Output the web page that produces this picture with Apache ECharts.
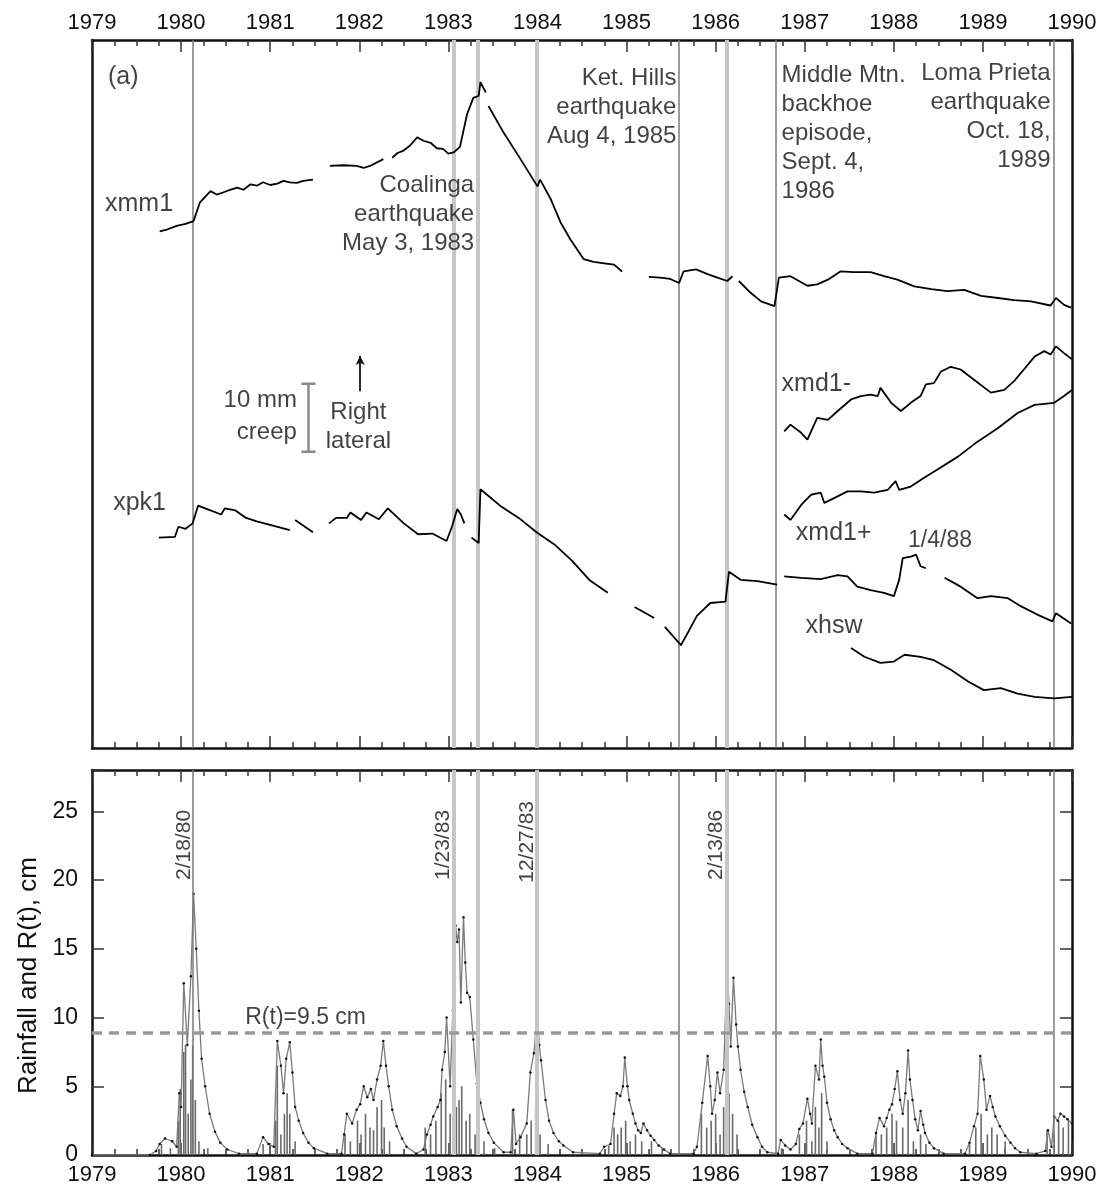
<!DOCTYPE html>
<html><head><meta charset="utf-8">
<script src="https://cdn.jsdelivr.net/npm/echarts@6/dist/echarts.min.js"></script>
<style>html,body{margin:0;padding:0;background:#fff}#c{width:1105px;height:1192px}</style>
</head><body><div id="c"></div><script>
// ---------- DATA ----------
// creep traces (decimal year, relative offset in mm); null = data gap
const xmm1 = [[1979.76,75.9],[1979.85,76.2],[1979.95,76.7],[1980.05,77.0],[1980.14,77.4],[1980.21,80.1],[1980.33,81.8],[1980.40,81.3],[1980.47,81.6],[1980.55,82.0],[1980.63,82.3],[1980.70,82.0],[1980.78,82.8],[1980.85,82.6],[1980.92,83.1],[1981.00,82.7],[1981.08,82.9],[1981.15,83.3],[1981.22,83.1],[1981.30,83.0],[1981.37,83.3],[1981.48,83.5],null,
  [1981.67,85.5],[1981.82,85.6],[1981.97,85.5],[1982.05,85.2],[1982.12,85.5],[1982.27,86.5],null,[1982.37,86.7],[1982.43,87.4],[1982.49,87.7],[1982.57,88.5],[1982.65,89.7],[1982.72,89.2],[1982.80,88.9],[1982.87,88.1],[1982.94,88.0],[1983.00,87.3],[1983.06,87.5],[1983.13,88.3],[1983.21,93.1],[1983.28,95.5],[1983.34,95.8],[1983.36,97.8],[1983.42,96.3],null,
  [1983.45,94.3],[1983.62,90.4],[1983.81,86.5],[1984.00,82.5],[1984.03,83.5],[1984.15,80.6],[1984.26,77.2],[1984.37,74.7],[1984.52,71.8],[1984.63,71.4],[1984.75,71.2],[1984.86,71.0],[1984.95,70.0],null,
  [1985.25,69.2],[1985.38,69.1],[1985.49,68.9],[1985.59,68.3],[1985.64,70.0],[1985.78,70.3],[1985.91,69.6],[1986.02,69.1],[1986.13,68.6],[1986.19,69.3],null,
  [1986.26,68.6],[1986.39,66.9],[1986.51,65.6],[1986.66,64.9],[1986.71,69.1],[1986.84,69.3],[1987.03,67.9],[1987.14,68.1],[1987.26,68.8],[1987.40,70.0],[1987.55,69.9],[1987.74,69.9],[1987.89,69.3],[1988.04,68.8],[1988.23,67.8],[1988.42,67.4],[1988.60,67.1],[1988.79,67.3],[1988.98,66.4],[1989.17,66.1],[1989.35,65.8],[1989.54,65.6],[1989.76,65.0],[1989.82,66.1],[1989.91,65.1],[1989.99,64.7]];
const xpk1 = [[1979.75,30.9],[1979.93,31.0],[1979.97,32.5],[1980.05,32.2],[1980.13,33.0],[1980.19,35.6],[1980.33,34.9],[1980.45,34.3],[1980.49,35.2],[1980.61,34.9],[1980.73,33.8],[1980.85,33.3],[1981.02,32.7],[1981.22,32.0],null,
  [1981.28,33.5],[1981.48,31.7],null,
  [1981.66,33.0],[1981.74,33.8],[1981.86,33.8],[1981.90,34.6],[1982.02,33.5],[1982.08,34.6],[1982.22,33.6],[1982.32,35.2],[1982.50,33.0],[1982.66,31.4],[1982.82,31.5],[1982.98,30.4],[1983.04,32.5],[1983.10,35.1],[1983.14,34.3],[1983.18,33.0],null,
  [1983.26,30.9],[1983.34,30.1],[1983.36,38.0],[1983.58,35.6],[1983.79,33.8],[1983.99,31.7],[1984.19,29.9],[1984.39,27.5],[1984.59,24.6],[1984.79,22.8],null,
  [1985.09,20.7],[1985.31,19.1],null,
  [1985.43,17.8],[1985.61,15.1],[1985.67,16.5],[1985.79,19.4],[1985.94,21.3],[1986.11,21.5],[1986.15,25.9],[1986.28,24.7],[1986.47,24.5],[1986.69,24.0],null,
  [1986.77,25.2],[1986.96,25.0],[1987.18,24.8],[1987.37,25.4],[1987.48,25.2],[1987.59,23.7],[1987.74,23.2],[1987.89,22.8],[1988.00,22.3],[1988.06,24.7],[1988.10,27.9],[1988.19,28.1],[1988.25,28.4],[1988.30,26.7],[1988.36,26.4],null,
  [1988.57,25.0],[1988.75,23.7],[1988.94,22.0],[1989.09,22.3],[1989.28,22.0],[1989.43,20.8],[1989.61,19.6],[1989.78,18.6],[1989.82,19.8],[1989.99,18.3]];
const xmd1Minus = [[1986.77,46.5],[1986.84,47.5],[1986.96,46.3],[1987.03,45.3],[1987.14,48.5],[1987.26,48.2],[1987.37,49.5],[1987.52,51.2],[1987.63,51.7],[1987.74,51.9],[1987.82,51.7],[1987.85,52.9],[1987.97,50.7],[1988.08,49.5],[1988.19,50.7],[1988.30,51.7],[1988.36,53.4],[1988.45,53.6],[1988.53,55.3],[1988.64,56.0],[1988.75,55.6],[1988.90,54.1],[1989.09,52.2],[1989.24,52.6],[1989.35,53.9],[1989.46,55.6],[1989.58,57.5],[1989.69,58.3],[1989.76,57.8],[1989.82,59.0],[1989.91,58.0],[1990.00,57.1]];
const xmd1Plus = [[1986.77,34.3],[1986.84,33.5],[1986.96,35.7],[1987.07,37.2],[1987.18,37.5],[1987.22,36.0],[1987.33,36.7],[1987.48,37.7],[1987.63,37.7],[1987.78,37.5],[1987.93,37.9],[1988.02,39.2],[1988.06,37.9],[1988.19,38.4],[1988.34,39.7],[1988.49,40.9],[1988.72,42.8],[1988.94,45.0],[1989.17,47.0],[1989.39,49.2],[1989.58,50.4],[1989.80,50.7],[1989.91,51.7],[1990.00,52.6]];
const xhsw = [[1987.52,14.7],[1987.67,13.4],[1987.85,12.5],[1988.00,12.7],[1988.12,13.7],[1988.30,13.4],[1988.45,12.9],[1988.64,11.5],[1988.83,9.8],[1989.01,8.5],[1989.20,8.8],[1989.39,8.0],[1989.58,7.5],[1989.80,7.3],[1990.00,7.5]];

// event dates (decimal years)
const eventsThin  = [1980.131, 1985.589, 1986.674, 1989.795];   // 2/18/80, Aug 4 1985, Sept 4 1986, Oct 18 1989
const eventsThick = [1983.060, 1983.334, 1983.986, 1986.118];   // 1/23/83, May 3 1983, 12/27/83, 2/13/86

// rainfall: R(t) in cm
const rtYears = [1979.00,1979.65,1979.72,1979.76,1979.82,1979.90,1979.95,1979.98,1980.00,1980.03,1980.07,1980.11,1980.14,1980.17,1980.20,1980.23,1980.27,1980.32,1980.38,1980.44,1980.52,1980.65,
  1980.85,1980.92,1980.98,1981.04,1981.08,1981.12,1981.15,1981.18,1981.22,1981.25,1981.28,1981.32,1981.37,1981.43,1981.49,1981.64,
  1981.80,1981.83,1981.86,1981.92,1981.97,1982.01,1982.05,1982.09,1982.13,1982.16,1982.20,1982.24,1982.27,1982.30,1982.33,1982.37,1982.42,1982.48,1982.53,1982.64,
  1982.72,1982.76,1982.80,1982.83,1982.88,1982.91,1982.93,1982.96,1982.98,1983.02,1983.05,1983.08,1983.10,1983.12,1983.14,1983.17,1983.19,1983.21,1983.24,1983.28,1983.32,1983.36,1983.40,1983.45,1983.51,1983.62,
  1983.70,1983.73,1983.76,1983.81,1983.88,1983.92,1983.96,1984.00,1984.02,1984.04,1984.09,1984.13,1984.18,1984.24,1984.29,1984.40,
  1984.70,1984.75,1984.82,1984.86,1984.89,1984.93,1984.96,1984.98,1985.01,1985.03,1985.07,1985.10,1985.13,1985.16,1985.19,1985.23,1985.27,1985.31,1985.36,1985.42,1985.49,
  1985.75,1985.79,1985.85,1985.91,1985.94,1985.96,1985.99,1986.02,1986.05,1986.09,1986.13,1986.15,1986.17,1986.20,1986.23,1986.25,1986.28,1986.32,1986.36,1986.41,1986.47,1986.52,1986.58,
  1986.70,1986.73,1986.78,1986.84,1986.90,1986.94,1986.98,1987.03,1987.06,1987.08,1987.12,1987.16,1987.18,1987.20,1987.22,1987.25,1987.29,1987.33,1987.37,1987.42,1987.48,1987.59,
  1987.76,1987.80,1987.84,1987.89,1987.92,1987.95,1987.98,1988.01,1988.04,1988.07,1988.10,1988.13,1988.16,1988.18,1988.21,1988.24,1988.27,1988.30,1988.33,1988.35,1988.40,1988.45,1988.56,
  1988.80,1988.85,1988.90,1988.94,1988.97,1989.01,1989.04,1989.08,1989.11,1989.14,1989.19,1989.25,1989.31,1989.36,1989.42,
  1989.60,1989.70,1989.73,1989.77,1989.80,1989.84,1989.87,1989.91,1989.95,1990.00];
const rtCm = [0.0,0.0,0.3,0.8,1.2,1.0,0.6,4.5,3.5,12.5,8.0,13.0,19.0,15.0,10.5,7.0,5.0,3.0,1.7,0.9,0.4,0.1,
  0.1,1.3,0.8,0.6,8.3,6.5,4.5,7.0,8.2,6.0,3.5,2.5,1.6,0.9,0.5,0.1,
  0.1,1.5,3.0,2.3,3.3,3.7,5.0,4.2,4.8,4.0,5.5,6.5,8.3,6.5,5.0,3.3,2.1,1.2,0.6,0.1,
  0.4,1.5,2.2,2.8,3.5,4.0,6.2,7.5,10.0,5.0,10.5,16.7,15.5,16.4,11.1,17.3,14.0,11.8,11.5,8.4,5.2,3.8,2.6,1.6,0.9,0.2,
  0.2,3.3,0.8,1.3,2.3,6.0,7.4,10.2,8.0,6.9,4.0,2.5,1.6,1.0,0.7,0.2,
  0.1,0.6,0.8,3.0,4.5,4.3,5.0,7.1,5.0,4.0,3.0,2.3,1.8,1.6,2.3,1.8,1.4,1.1,0.7,0.4,0.1,
  0.1,0.6,3.8,7.2,5.0,3.0,4.0,6.0,4.5,6.2,14.0,11.0,7.9,12.9,9.5,7.9,6.2,4.6,3.5,2.2,1.3,0.6,0.2,
  0.1,1.1,0.7,0.4,0.8,1.9,2.3,4.1,3.0,2.3,6.5,5.5,8.4,6.5,5.7,3.8,2.6,1.8,1.3,0.8,0.5,0.1,
  0.1,1.6,2.7,2.1,2.7,3.3,3.7,4.8,6.1,4.0,3.0,4.5,7.6,5.5,4.0,2.6,1.8,3.2,2.2,1.6,0.9,0.5,0.1,
  0.1,0.9,2.1,3.0,7.2,5.5,3.3,4.3,3.5,2.8,2.1,1.4,0.9,0.5,0.2,
  0.1,0.3,1.8,0.6,2.8,2.5,3.0,2.8,2.6,2.3];
// daily rainfall, cm
const rainYears = [1979.78,1979.88,1979.97,1979.99,1980.03,1980.05,1980.08,1980.11,1980.13,1980.16,1980.20,1980.30,
  1980.92,1981.06,1981.08,1981.12,1981.16,1981.19,1981.22,1981.28,
  1981.84,1981.90,1981.98,1982.02,1982.07,1982.12,1982.16,1982.20,1982.25,1982.28,1982.34,
  1982.74,1982.80,1982.86,1982.92,1982.97,1983.02,1983.06,1983.09,1983.12,1983.15,1983.20,1983.24,1983.30,1983.40,1983.52,
  1983.72,1983.80,1983.88,1983.93,1983.98,1984.03,1984.12,
  1984.80,1984.86,1984.90,1984.94,1984.99,1985.04,1985.10,1985.17,1985.28,1985.40,
  1985.84,1985.90,1985.95,1986.00,1986.05,1986.09,1986.12,1986.15,1986.19,1986.24,
  1986.74,1986.94,1987.02,1987.08,1987.12,1987.16,1987.19,1987.25,
  1987.80,1987.86,1987.92,1987.98,1988.03,1988.10,1988.16,1988.22,1988.30,1988.36,
  1988.85,1988.92,1988.98,1989.05,1989.10,1989.16,1989.25,
  1989.72,1989.80,1989.85,1989.90,1989.96];
const rainCm = [0.8,0.5,2.5,4.8,7.5,8.0,3.0,5.5,8.0,4.0,1.0,0.5,
  0.8,2.5,6.5,1.5,3.0,4.5,3.0,1.0,
  1.5,1.0,2.5,1.5,3.0,2.0,1.8,3.5,4.0,2.0,1.0,
  2.0,1.5,2.5,4.5,5.5,3.0,4.0,3.5,4.0,5.0,2.5,3.0,1.5,1.0,0.5,
  3.3,1.5,1.5,2.5,3.5,1.5,0.8,
  0.7,2.0,1.5,2.0,2.5,1.0,1.5,1.0,1.0,0.5,
  3.0,2.0,2.5,3.0,1.5,3.5,5.0,4.5,3.0,1.5,
  0.5,1.5,2.5,1.0,3.5,2.0,4.5,1.0,
  1.5,1.5,2.0,3.0,2.5,2.0,4.0,1.0,1.5,0.8,
  0.8,2.0,3.0,1.5,2.0,1.5,1.0,
  1.8,1.5,2.5,2.0,2.5];
const thresholdCm = 8.9;

// ---------- CHART ----------
const FONT = '"Liberation Sans", Arial, Helvetica, sans-serif';
const INK = '#111';
function withGaps(arr){ return arr.map((p,i)=> p === null ? [arr[i-1][0], '-'] : p); }
function txt(x,y,s,align,valign,extra){
  return {value:[x,y], label:Object.assign({show:true, position:'inside', formatter:s, align:align, verticalAlign:valign, color:INK, fontSize:24, fontFamily:FONT, lineHeight:29}, extra||{})};
}
const chart = echarts.init(document.getElementById('c'), null, {renderer:'canvas'});
const axisLine = {show:true, onZero:false, lineStyle:{color:'#111', width:2.5}};
function xAx(grid, pos, labels){
  return {type:'value', gridIndex:grid, position:pos, min:1979, max:1990, interval:1,
    axisLine:axisLine, splitLine:{show:false},
    axisTick:{show:true, inside:true, length:12, lineStyle:{color:'#333', width:1.5}},
    minorTick:{show:true, splitNumber:4, length:6, lineStyle:{color:'#333', width:1.5}},
    axisLabel:{show:labels, color:INK, fontSize:22, fontFamily:FONT, margin: pos==='top'?6:9, formatter:v=>String(v)}};
}
const vlines = eventsThin.map(v=>({xAxis:v, lineStyle:{color:'#7a7a7a', width:1.5, type:'solid'}}))
  .concat(eventsThick.map(v=>({xAxis:v, lineStyle:{color:'#c6c6c6', width:4, type:'solid'}})));
const traceStyle = {color:'#000', width:1.8};
function trace(name, data){
  return {name, type:'line', xAxisIndex:0, yAxisIndex:0, data:withGaps(data), showSymbol:false, connectNulls:false,
    lineStyle:traceStyle, itemStyle:{color:'#000'}, silent:true, z:5};
}
const option = {
  animation:false, backgroundColor:'#fff',
  textStyle:{fontFamily:FONT},
  grid:[{left:92, right:33, top:40, height:708}, {left:92, right:33, top:770, height:385}],
  xAxis:[xAx(0,'top',true), xAx(0,'bottom',false), xAx(1,'bottom',true), xAx(1,'top',false)],
  yAxis:[
    {type:'value', gridIndex:0, position:'left', min:0, max:104, axisLine:axisLine, axisTick:{show:false}, axisLabel:{show:false}, splitLine:{show:false}},
    {type:'value', gridIndex:0, position:'right', min:0, max:104, axisLine:axisLine, axisTick:{show:false}, axisLabel:{show:false}, splitLine:{show:false}},
    {type:'value', gridIndex:1, position:'left', min:0, max:28, interval:5, axisLine:axisLine, splitLine:{show:false},
      axisTick:{show:true, inside:true, length:12, lineStyle:{color:'#333', width:1.5}},
      axisLabel:{color:INK, fontSize:23, fontFamily:FONT, margin:14, formatter:v=> v%5===0 ? String(v) : ''},
      name:'Rainfall and R(t), cm', nameLocation:'middle', nameGap:46, nameRotate:90,
      nameTextStyle:{color:INK, fontSize:26, fontFamily:FONT, padding:[0,26,0,0]}},
    {type:'value', gridIndex:1, position:'right', min:0, max:28, interval:5, axisLine:axisLine, splitLine:{show:false},
      axisTick:{show:true, inside:true, length:12, lineStyle:{color:'#333', width:1.5}}, axisLabel:{show:false}}
  ],
  series:[
    {type:'line', xAxisIndex:0, yAxisIndex:0, data:[], silent:true,
      markLine:{silent:true, symbol:['none','none'], label:{show:false}, data:vlines}, z:1},
    trace('xmm1', xmm1), trace('xpk1', xpk1), trace('xmd1-', xmd1Minus), trace('xmd1+', xmd1Plus), trace('xhsw', xhsw),
    // 10 mm scale bar
    {type:'line', xAxisIndex:0, yAxisIndex:0, showSymbol:false, silent:true, lineStyle:{color:'#8a8a8a', width:2.5},
      data:[[1981.43,43.5],[1981.43,53.5],[1981.43,'-'],[1981.35,53.5],[1981.51,53.5],[1981.51,'-'],[1981.35,43.5],[1981.51,43.5]]},
    // right-lateral arrow
    {type:'line', xAxisIndex:0, yAxisIndex:0, data:[], silent:true,
      markLine:{silent:true, symbol:['none','arrow'], symbolSize:[7,9], label:{show:false},
        lineStyle:{color:'#111', width:1.8, type:'solid'}, data:[[{coord:[1982.01,52.4]},{coord:[1982.01,57.6]}]]}},
    {type:'scatter', xAxisIndex:0, yAxisIndex:0, symbolSize:1, itemStyle:{color:'rgba(0,0,0,0)'}, silent:true, z:10,
      data:[
        txt(1979.18,98.5,'(a)','left','middle',{fontSize:25}),
        txt(1979.91,79.9,'xmm1','right','middle',{fontSize:25}),
        txt(1983.29,84.8,'Coalinga\nearthquake\nMay 3, 1983','right','top'),
        txt(1985.56,100.5,'Ket. Hills\nearthquake\nAug 4, 1985','right','top'),
        txt(1986.74,101.0,'Middle Mtn.\nbackhoe\nepisode,\nSept. 4,\n1986','left','top'),
        txt(1989.76,101.25,'Loma Prieta\nearthquake\nOct. 18,\n1989','right','top'),
        txt(1981.30,53.4,'10 mm\ncreep','right','top',{lineHeight:32}),
        txt(1981.99,51.5,'Right\nlateral','center','top'),
        txt(1979.83,36.0,'xpk1','right','middle',{fontSize:25}),
        txt(1986.74,53.4,'xmd1-','left','middle',{fontSize:25}),
        txt(1986.90,31.6,'xmd1+','left','middle',{fontSize:25}),
        txt(1988.16,30.4,'1/4/88','left','middle',{fontSize:23}),
        txt(1987.01,17.9,'xhsw','left','middle',{fontSize:25})
      ]},
    // bottom panel
    {type:'line', xAxisIndex:2, yAxisIndex:2, data:[], silent:true,
      markLine:{silent:true, symbol:['none','none'], label:{show:false},
        data:vlines.concat([{yAxis:thresholdCm, lineStyle:{color:'#999', width:3.5, type:[10,7]}}])}, z:1},
    {name:'Rainfall', type:'bar', xAxisIndex:2, yAxisIndex:2, barWidth:1.6, silent:true,
      itemStyle:{color:'#6a6a6a'}, data:rainYears.map((y,i)=>[y, rainCm[i]]), z:3},
    {name:'R(t)', type:'line', xAxisIndex:2, yAxisIndex:2, silent:true,
      data:rtYears.map((y,i)=>[y, rtCm[i]]), showSymbol:true, symbol:'circle', symbolSize:2.5,
      itemStyle:{color:'#111'}, lineStyle:{color:'#7a7a7a', width:1.3}, z:4},
    {type:'scatter', xAxisIndex:2, yAxisIndex:2, symbolSize:1, itemStyle:{color:'rgba(0,0,0,0)'}, silent:true, z:10,
      data:[
        txt(1980.72,10.0,'R(t)=9.5 cm','left','middle',{fontSize:23}),
        txt(1980.03,20.0,'2/18/80','left','middle',{fontSize:21, rotate:90}),
        txt(1982.94,20.0,'1/23/83','left','middle',{fontSize:21, rotate:90}),
        txt(1983.89,19.8,'12/27/83','left','middle',{fontSize:21, rotate:90}),
        txt(1986.01,20.0,'2/13/86','left','middle',{fontSize:21, rotate:90})
      ]}
  ]
};
chart.setOption(option);
</script></body></html>
